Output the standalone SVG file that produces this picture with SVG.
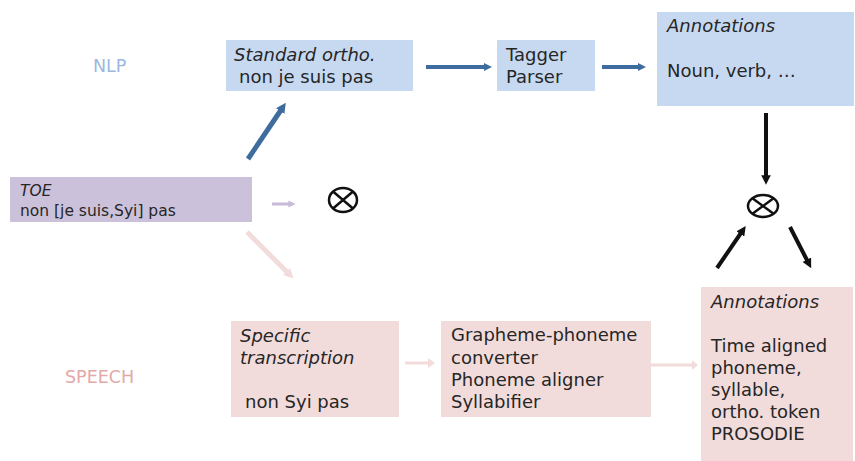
<svg xmlns="http://www.w3.org/2000/svg" width="855" height="461" viewBox="0 0 855 461">
<defs>
<style>
text{font-family:"DejaVu Sans","Open Sans",sans-serif;font-size:18px;fill:#262626}
.i{font-style:italic}
.blue{fill:#c6d9f1}
.lav{fill:#ccc1da}
.pink{fill:#f2dcdb}
.lbl{font-size:17.5px}
.toe{font-size:15.5px}
</style>
<marker id="hb" viewBox="0 0 10 10" refX="5" refY="5" markerWidth="2" markerHeight="2" orient="auto"><path d="M0,0L10,5L0,10z" fill="#3f6c9f"/></marker>
<marker id="hk" viewBox="0 0 10 10" refX="5" refY="5" markerWidth="2.4" markerHeight="2.4" orient="auto"><path d="M0,0L10,5L0,10z" fill="#111"/></marker>
<marker id="hl" viewBox="0 0 10 10" refX="5" refY="5" markerWidth="2.4" markerHeight="2.4" orient="auto"><path d="M0,0L10,5L0,10z" fill="#c8bbd9"/></marker>
<marker id="hp" viewBox="0 0 10 10" refX="5" refY="5" markerWidth="2" markerHeight="2" orient="auto"><path d="M0,0L10,5L0,10z" fill="#f2dcdb"/></marker>
</defs>
<text x="93" y="72" class="lbl" style="fill:#9cb8de">NLP</text>
<text x="65" y="383" class="lbl" style="fill:#e3a9a8">SPEECH</text>
<g id="std">
<rect class="blue" x="226" y="40" width="187" height="51"/>
<text><tspan x="234" y="61" class="i">Standard ortho.</tspan><tspan x="239" y="83">non je suis pas</tspan></text>
</g>
<g id="tagger">
<rect class="blue" x="497" y="40" width="98" height="51"/>
<text><tspan x="506" y="61">Tagger</tspan><tspan x="506" y="83">Parser</tspan></text>
</g>
<g id="annot-nlp">
<rect class="blue" x="657" y="12" width="197" height="94"/>
<text><tspan x="667" y="32" class="i">Annotations</tspan><tspan x="667" y="77">Noun, verb, …</tspan></text>
</g>
<g id="toe">
<rect class="lav" x="10" y="177" width="242" height="45"/>
<text class="toe"><tspan x="20" y="196" class="i">TOE</tspan><tspan x="20" y="216">non [je suis,Syi] pas</tspan></text>
</g>
<g id="spec">
<rect class="pink" x="231" y="321" width="168" height="96"/>
<text><tspan x="240" y="342" class="i">Specific</tspan><tspan x="240" y="364" class="i">transcription</tspan><tspan x="245" y="408">non Syi pas</tspan></text>
</g>
<g id="graph">
<rect class="pink" x="441" y="321" width="210" height="96"/>
<text><tspan x="451" y="341">Grapheme-phoneme</tspan><tspan x="451" y="364">converter</tspan><tspan x="451" y="386">Phoneme aligner</tspan><tspan x="451" y="408">Syllabifier</tspan></text>
</g>
<g id="annot-speech">
<rect class="pink" x="701" y="287" width="152" height="174"/>
<text><tspan x="711" y="308" class="i">Annotations</tspan><tspan x="711" y="352">Time aligned</tspan><tspan x="711" y="374">phoneme,</tspan><tspan x="711" y="396">syllable,</tspan><tspan x="711" y="418">ortho. token</tspan><tspan x="711" y="440">PROSODIE</tspan></text>
</g>
<g id="otimes1" fill="none" stroke="#111" stroke-width="2.5">
<ellipse cx="343" cy="200" rx="14" ry="12"/>
<path d="M333,191.5L353,208.5M353,191.5L333,208.5"/>
</g>
<g id="otimes2" fill="none" stroke="#111" stroke-width="2.5">
<ellipse cx="763" cy="206" rx="15" ry="11"/>
<path d="M752.4,198.2L773.6,213.8M773.6,198.2L752.4,213.8"/>
</g>
<g id="connectors" fill="none">
<line x1="248" y1="159" x2="283" y2="107" stroke="#3f6c9f" stroke-width="5" marker-end="url(#hb)"/>
<line x1="426" y1="67" x2="488" y2="67" stroke="#3f6c9f" stroke-width="4" marker-end="url(#hb)"/>
<line x1="602" y1="67" x2="642" y2="67" stroke="#3f6c9f" stroke-width="4" marker-end="url(#hb)"/>
<line x1="272" y1="204" x2="292" y2="204" stroke="#c8bbd9" stroke-width="3" marker-end="url(#hl)"/>
<line x1="247" y1="232" x2="290" y2="275" stroke="#f2dcdb" stroke-width="5" marker-end="url(#hp)"/>
<line x1="405" y1="363" x2="430" y2="363" stroke="#f2dcdb" stroke-width="3"/>
<path d="M428,358L435,363L428,368z" fill="#f2dcdb"/>
<line x1="651" y1="365" x2="694" y2="365" stroke="#f2dcdb" stroke-width="3"/>
<path d="M692,360L698,365L692,370z" fill="#f2dcdb"/>
<line x1="766" y1="113" x2="766" y2="180" stroke="#111" stroke-width="4" marker-end="url(#hk)"/>
<line x1="717" y1="268" x2="743" y2="230" stroke="#111" stroke-width="4" marker-end="url(#hk)"/>
<line x1="790" y1="227" x2="809" y2="264" stroke="#111" stroke-width="4" marker-end="url(#hk)"/>
</g>
</svg>
